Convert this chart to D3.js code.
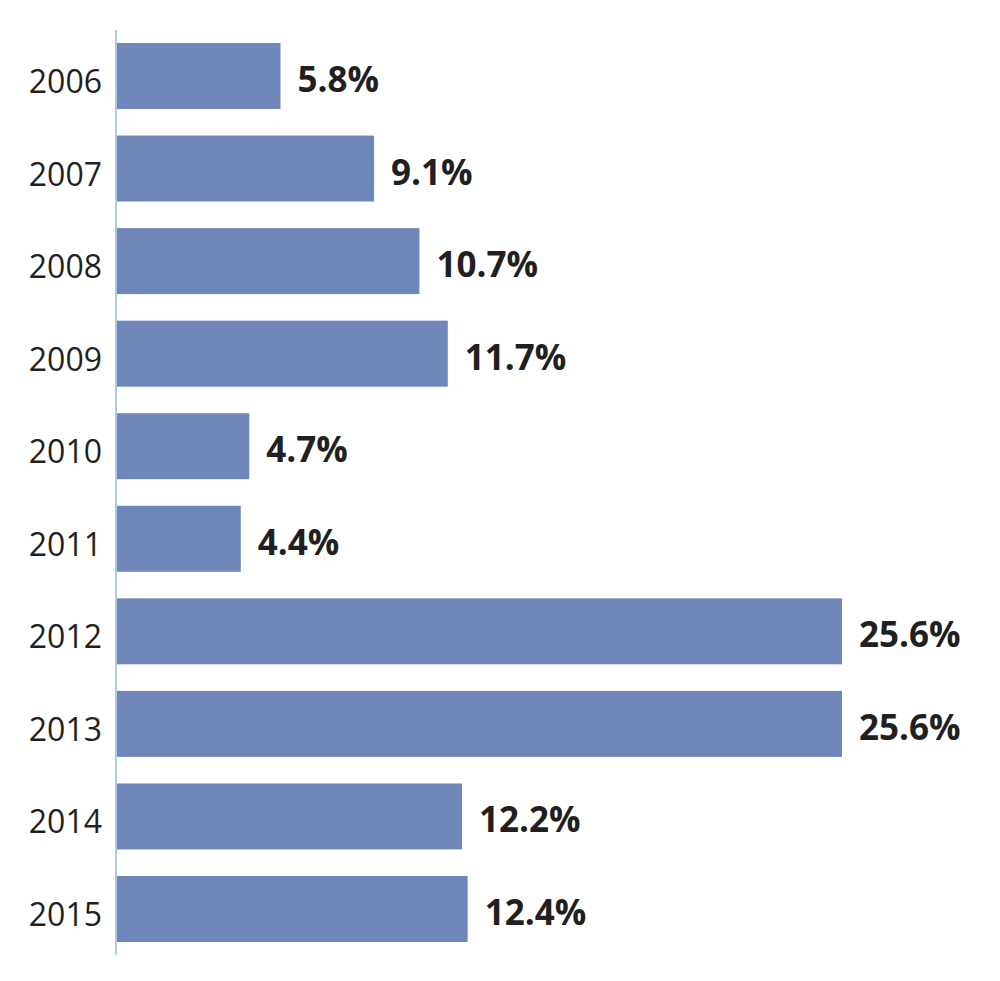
<!DOCTYPE html>
<html lang="en">

<head>
    <meta charset="UTF-8">
    <title></title>
    <style>
        body {
            margin: 0;
            background: #fff;
        }

        .bar {
            fill: #6e87b8;
        }

        .axis-line {
            stroke: #a9cbe4;
            stroke-width: 2px;
        }

        .year-label {
            text-anchor: end;
            font-family: 'Open Sans', sans-serif;
            font-size: 32px;
            fill: #231f20;
        }

        .value-label {
            text-anchor: start;
            font-family: 'Open Sans', sans-serif;
            font-weight: bold;
            font-size: 35px;
            fill: #231f20;
        }
    </style>
</head>

<body>
    <script src="https://d3js.org/d3.v7.min.js"></script>
    <script>
        const years = ['2006', '2007', '2008', '2009', '2010', '2011', '2012', '2013', '2014', '2015'];
        const values = [5.8, 9.1, 10.7, 11.7, 4.7, 4.4, 25.6, 25.6, 12.2, 12.4];

        const width = 1000;
        const height = 981;
        const axisX = 116;

        const xScale = d3.scaleLinear()
            .domain([0, 25.6])
            .range([axisX, 842]);
        const yScale = d3.scaleBand()
            .domain(years)
            .range([43, 942])
            .paddingInner(0.287)
            .paddingOuter(0);

        const svg = d3.select('body')
            .append('svg')
            .attr('width', width)
            .attr('height', height);

        const data = years.map((year, i) => ({ year, value: values[i] }));

        svg.selectAll('.bar')
            .data(data)
            .enter().append('rect')
            .attr('class', 'bar')
            .attr('x', xScale(0))
            .attr('y', d => yScale(d.year))
            .attr('width', d => xScale(d.value) - xScale(0))
            .attr('height', yScale.bandwidth());

        svg.append('line')
            .attr('class', 'axis-line')
            .attr('x1', axisX)
            .attr('x2', axisX)
            .attr('y1', 30)
            .attr('y2', 955);

        svg.selectAll('.year-label')
            .data(data)
            .enter().append('text')
            .attr('class', 'year-label')
            .attr('x', 102)
            .attr('y', d => yScale(d.year) + yScale.bandwidth() / 2 + 17)
            .text(d => d.year);

        svg.selectAll('.value-label')
            .data(data)
            .enter().append('text')
            .attr('class', 'value-label')
            .attr('x', d => xScale(d.value) + 17)
            .attr('y', d => yScale(d.year) + yScale.bandwidth() / 2 + 16)
            .text(d => d.value.toFixed(1) + '%');
    </script>
</body>

</html>
